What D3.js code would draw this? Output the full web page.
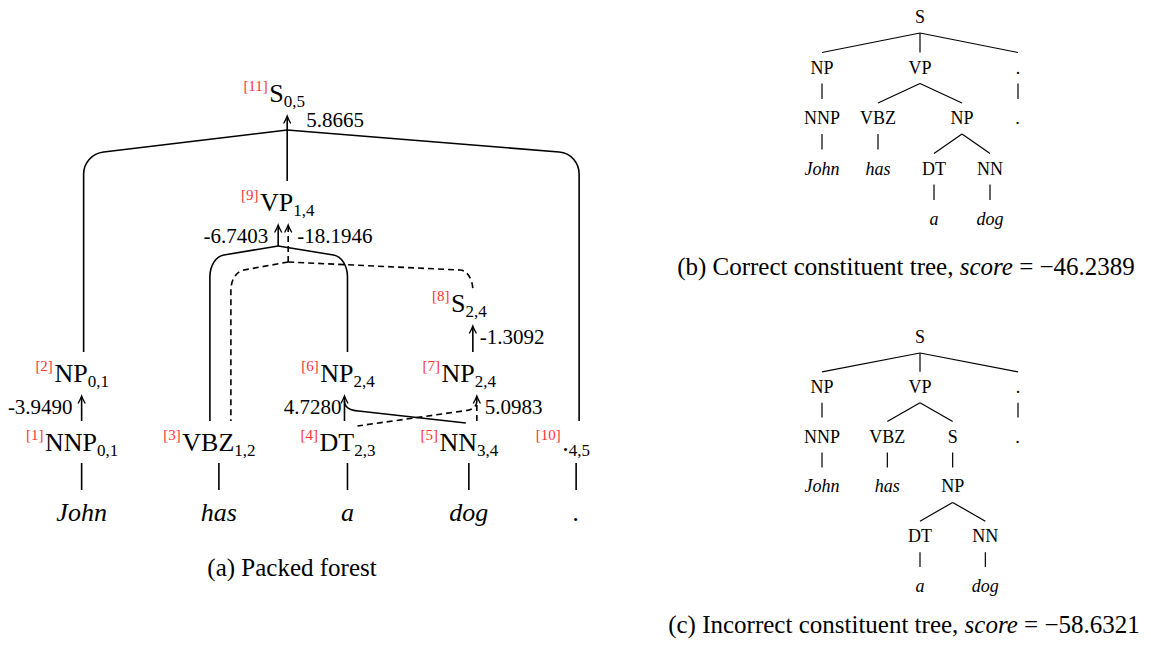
<!DOCTYPE html>
<html><head><meta charset="utf-8">
<script src="https://cdn.jsdelivr.net/npm/d3@7"></script>
<style>
body{margin:0;background:#fff}
svg{display:block}
svg text{font-family:"Liberation Serif","Times New Roman","DejaVu Serif",serif;fill:#000}
</style></head><body>
<svg id="c" width="1151" height="648" font-family="Liberation Serif, serif"></svg>
<script>
// ================= DATA =================
const words = ["John", "has", "a", "dog", "."];
const nodeIds    = [1, 2, 3, 4, 5, 6, 7, 8, 9, 10, 11];
const nodeLabels = ["NNP", "NP", "VBZ", "DT", "NN", "NP", "NP", "S", "VP", ".", "S"];
const nodeSpans  = ["0,1", "0,1", "1,2", "2,3", "3,4", "2,4", "2,4", "2,4", "1,4", "4,5", "0,5"];
const edgeHeads  = [2, 6, 7, 8, 9, 9, 11];
const edgeTails  = [[1], [4, 5], [4, 5], [7], [3, 6], [3, 8], [2, 9, 10]];
const edgeScores = ["-3.9490", "4.7280", "5.0983", "-1.3092", "-6.7403", "-18.1946", "5.8665"];
const edgeDashed = [false, false, true, false, false, true, false];
const treeCorrect   = "(S (NP (NNP John)) (VP (VBZ has) (NP (DT a) (NN dog))) (. .))";
const treeIncorrect = "(S (NP (NNP John)) (VP (VBZ has) (S (NP (DT a) (NN dog)))) (. .))";
const captionA = "(a) Packed forest";
const captionB = ["(b) Correct constituent tree, ", "score", " = ", "\u221246.2389"];
const captionC = ["(c) Incorrect constituent tree, ", "score", " = ", "\u221258.6321"];

// ================= LAYOUT / STYLE =================
const L = {
  rowLevels: ["top", "vp", "s24", "np", "pre", "word"],
  rowBase:   [102, 211, 312, 382, 451, 521],
  nodeRow: {1:"pre", 2:"np", 3:"pre", 4:"pre", 5:"pre", 6:"np", 7:"np", 8:"s24", 9:"vp", 10:"pre", 11:"top"},
  nodeCol: {1:0, 2:0, 3:1, 4:2, 5:3, 6:2, 7:3, 8:3, 9:1.5, 10:4, 11:1.5},
  nodeDx: {9:4, 11:4},
  mainStart: 45, mainGap: 64,
  fs: 26, subFs: 17, subDy: 5, idxFs: 15, idxDy: -11, scoreFs: 21, wordFs: 26,
  topOff: 30, tipGap: 14,
  edgeKind: ["unary", "hook", "hook", "unary", "tent", "tent", "tent"],
  mainTail: [1, 4, 5, 7, null, null, 9],
  arrowDx:  [0, -3, 8, 4, -9, 1, 0],
  scoreSide:["l", "l", "r", "r", "l", "r", "r"],
  scoreDx:  [-9, -3, 8, 7, -10, 9, 19],
  tentY:    {4:246, 5:262, 6:130},
  tentDrop: {4:9, 5:8, 6:22},
  tentRy:   {4:22, 5:20, 6:22},
  tentRx:   {4:14, 5:13, 6:20},
  tailDx: {4:{3:-9}, 5:{3:12, 8:4}, 6:{2:2, 10:3}},
  hookEnd: {1:[-3, 2], 2:[10, 5]},
  lw: 1.6, dash: "6,4",
  red: "#ff3333",
  capA: [292, 576], capB: [906, 275], capC: [904, 633], capFs: 25,
  treeX: [822, 1018], treeBY: [23, 225], treeCY: [343, 592], treeFs: 18
};

const svg = d3.select("#c");
const yRow = d3.scaleOrdinal().domain(L.rowLevels).range(L.rowBase);

// ---- helpers ----
function mainLabel(g, label, span) {
  const t = g.append("text").attr("font-size", L.fs);
  t.append("tspan").text(label);
  t.append("tspan").attr("font-size", L.subFs).attr("dy", L.subDy).text(span);
  return t;
}

// ---- measure preterminals to build the column scale ----
const meas = svg.append("g");
const preIdx = nodeIds.map((id, i) => i).filter(i => L.nodeRow[nodeIds[i]] === "pre")
  .sort((a, b) => L.nodeCol[nodeIds[a]] - L.nodeCol[nodeIds[b]]);
const centers = [];
let cursor = L.mainStart;
preIdx.forEach(i => {
  const t = mainLabel(meas, nodeLabels[i], nodeSpans[i]);
  const w = t.node().getComputedTextLength();
  centers.push(cursor + w / 2);
  cursor += w + L.mainGap;
});
meas.remove();
const xCol = d3.scaleLinear().domain(d3.range(centers.length)).range(centers);

// ---- forest nodes ----
const pos = {};
const gNodes = svg.append("g");
nodeIds.forEach((id, i) => {
  const x = xCol(L.nodeCol[id]) + (L.nodeDx[id] || 0);
  const y = yRow(L.nodeRow[id]);
  pos[id] = {x, y, top: y - L.topOff, tip: y + L.tipGap};
  const t = mainLabel(gNodes, nodeLabels[i], nodeSpans[i]);
  const w = t.node().getComputedTextLength();
  t.attr("x", x - w / 2).attr("y", y);
  gNodes.append("text").attr("x", x - w / 2 - 1.5).attr("y", y + L.idxDy)
    .attr("text-anchor", "end").attr("font-size", L.idxFs)
    .style("fill", L.red).text("[" + id + "]");
});

// ---- words + preterminal-to-word lines ----
const gWords = svg.append("g");
words.forEach((w, k) => {
  const x = xCol(k);
  gWords.append("line").attr("x1", x).attr("x2", x)
    .attr("y1", yRow("pre") + 12).attr("y2", yRow("word") - 31)
    .attr("stroke", "#000").attr("stroke-width", L.lw);
  gWords.append("text").attr("x", x).attr("y", yRow("word"))
    .attr("text-anchor", "middle").attr("font-size", L.wordFs)
    .attr("font-style", "italic").text(w);
});

// ---- hyperedges ----
edgeHeads.forEach((h, k) => {
  const head = pos[h];
  const ax = head.x + L.arrowDx[k];
  const tip = head.tip;
  const dash = edgeDashed[k] ? L.dash : null;
  const kind = L.edgeKind[k];
  const mt = L.mainTail[k];
  const g = svg.append("g").attr("fill", "none").attr("stroke", "#000")
    .attr("stroke-width", L.lw);
  let shaftBottom;
  let labelY = tip + 18;
  if (kind === "tent") {
    const jy = L.tentY[k];
    shaftBottom = mt ? pos[mt].top : jy;
    labelY = Math.min(labelY, jy - 3);
    edgeTails[k].filter(t => t !== mt).forEach(t => {
      const tx = pos[t].x + ((L.tailDx[k] || {})[t] || 0);
      const sgn = tx > ax ? 1 : -1;
      const rx = L.tentRx[k];
      const p0x = tx - sgn * rx, p0y = jy + L.tentDrop[k];
      const len = Math.hypot(p0x - ax, p0y - jy);
      const ux = (p0x - ax) / len, uy = (p0y - jy) / len;
      const c1x = p0x + ux * rx * 0.6, c1y = p0y + uy * rx * 0.6;
      const ry = L.tentRy[k];
      const endY = p0y + ry;
      let d = `M${ax},${jy}L${p0x},${p0y}C${c1x},${c1y} ${tx},${endY - ry * 0.5} ${tx},${endY}`;
      if (pos[t].top > endY) d += `L${tx},${pos[t].top}`;
      g.append("path").attr("d", d).attr("stroke-dasharray", dash);
    });
  } else if (kind === "hook") {
    shaftBottom = pos[mt].top;
    edgeTails[k].filter(t => t !== mt).forEach(t => {
      const he = L.hookEnd[k];
      const ex = pos[t].x + he[0], ey = pos[t].top + he[1];
      const sgn = ex > ax ? 1 : -1;
      const hy = tip + 5;
      const d = `M${ax},${hy}Q${ax},${hy + 9} ${ax + sgn * 14},${hy + 10}L${ex},${ey}`;
      g.append("path").attr("d", d).attr("stroke-dasharray", dash);
    });
  } else {
    shaftBottom = pos[mt].top;
  }
  g.append("path").attr("d", `M${ax},${shaftBottom}L${ax},${tip + 1}`)
    .attr("stroke-dasharray", dash);
  g.append("path")
    .attr("d", `M${ax - 3.6},${tip + 7.5}Q${ax - 1},${tip + 3} ${ax},${tip}Q${ax + 1},${tip + 3} ${ax + 3.6},${tip + 7.5}`)
    .attr("stroke-width", 1.3);
  const right = L.scoreSide[k] === "r";
  svg.append("text").attr("x", ax + L.scoreDx[k]).attr("y", labelY)
    .attr("text-anchor", right ? "start" : "end")
    .attr("font-size", L.scoreFs).text(edgeScores[k]);
});

// ---- caption (a) ----
svg.append("text").attr("x", L.capA[0]).attr("y", L.capA[1]).attr("text-anchor", "middle")
  .attr("font-size", L.capFs).text(captionA);

// ================= CONSTITUENT TREES =================
function parseTree(s) {
  const tok = s.replace(/\(/g, " ( ").replace(/\)/g, " ) ").trim().split(/\s+/);
  let i = 0;
  function node() {
    i++;
    const name = tok[i++];
    const children = [];
    while (tok[i] !== ")") {
      if (tok[i] === "(") children.push(node());
      else children.push({name: tok[i++], word: true});
    }
    i++;
    return {name, children};
  }
  return node();
}

function drawTree(str, yr, cap, capPos) {
  const root = d3.hierarchy(parseTree(str), d => d.children);
  d3.tree().nodeSize([1, 1]).separation(() => 1)(root);
  const nodes = root.descendants();
  const x = d3.scaleLinear().domain(d3.extent(nodes, d => d.x)).range(L.treeX);
  const y = d3.scaleLinear().domain([0, root.height]).range(yr);
  const g = svg.append("g");
  g.selectAll("line").data(root.links()).join("line")
    .attr("x1", d => x(d.source.x)).attr("y1", d => y(d.source.depth) + 10)
    .attr("x2", d => x(d.target.x))
    .attr("y2", d => y(d.target.depth) - (d.source.children.length === 1 ? 25 : 21))
    .attr("stroke", "#000").attr("stroke-width", 1.2);
  g.selectAll("text").data(nodes).join("text")
    .attr("x", d => x(d.x)).attr("y", d => y(d.depth))
    .attr("text-anchor", "middle").attr("font-size", L.treeFs)
    .attr("font-style", d => d.data.word ? "italic" : null)
    .text(d => d.data.name);
  const t = svg.append("text").attr("x", capPos[0]).attr("y", capPos[1])
    .attr("text-anchor", "middle").attr("font-size", L.capFs);
  t.append("tspan").text(cap[0]);
  t.append("tspan").attr("font-style", "italic").text(cap[1]);
  t.append("tspan").text(cap[2]);
  t.append("tspan").text(cap[3]);
}
drawTree(treeCorrect, L.treeBY, captionB, L.capB);
drawTree(treeIncorrect, L.treeCY, captionC, L.capC);
</script>
</body></html>
